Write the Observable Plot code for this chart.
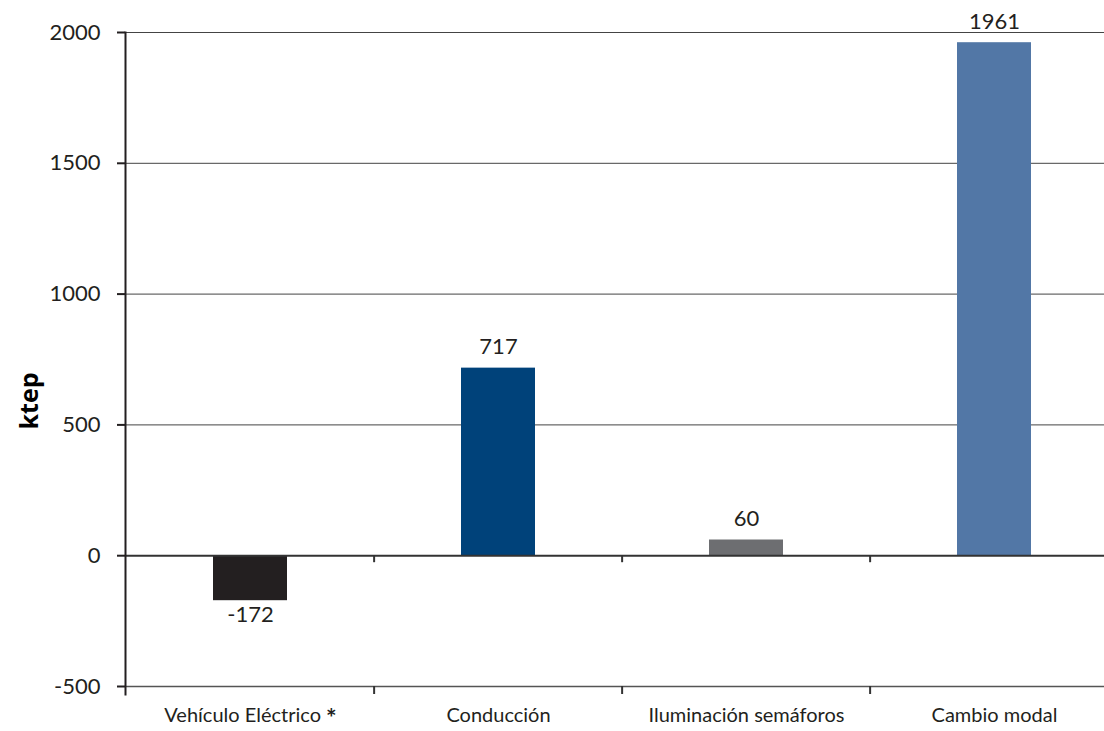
<!DOCTYPE html>
<html>
<head>
<meta charset="utf-8">
<script src="https://cdn.jsdelivr.net/npm/d3@7"></script>
<script src="https://cdn.jsdelivr.net/npm/@observablehq/plot@0.6"></script>
<style>
  html, body { margin: 0; padding: 0; background: #fff; overflow: hidden; }
  #chart { width: 1104px; height: 731px; }
</style>
</head>
<body>
<div id="chart"></div>
<script>
// ---- data ----
const categories = ["Vehículo Eléctrico", "Conducción", "Iluminación semáforos", "Cambio modal"];
const values = [-172, 717, 60, 1961];
const yTicks = [-500, 0, 500, 1000, 1500, 2000];
const gridValues = [500, 1000, 1500, 2000];
const yLabel = "ktep";

// ---- style ----
const palette = ["#231f20", "#00427a", "#6d6e71", "#5277a6"];
const W = 1104, H = 731;
const mL = 125, mR = -16, mT = 32, mB = 45;
const font = "Lato, 'Open Sans', sans-serif";

const data = categories.map((c, i) => ({cat: c, value: values[i]}));
const step = (W - mL - mR) / categories.length;
const boundaries = categories.slice(1);

const plot = Plot.plot({
  width: W,
  height: H,
  marginLeft: mL,
  marginRight: mR,
  marginTop: mT,
  marginBottom: mB,
  style: {fontFamily: font, color: "#231f20", background: "#fff"},
  x: {domain: categories, paddingInner: 0.7, paddingOuter: 0.35, label: null},
  y: {domain: [-500, 2000], label: null},
  color: {domain: categories, range: palette},
  marks: [
    Plot.ruleY(gridValues, {stroke: "#444", strokeWidth: 1}),
    Plot.barY(data, {x: "cat", y: "value", fill: "cat"}),
    Plot.ruleY([0], {stroke: "#333", strokeWidth: 2}),
    Plot.ruleY([-500], {stroke: "#555", strokeWidth: 1.5}),
    // boundary ticks on zero line and bottom line
    Plot.ruleX(boundaries, {x: d => d, y1: 0, y2: 0, dx: -step / 2, insetBottom: -7, stroke: "#333", strokeWidth: 2}),
    Plot.ruleX(boundaries, {x: d => d, y1: -500, y2: -500, dx: -step / 2, insetBottom: -8, stroke: "#333", strokeWidth: 2}),
    Plot.frame({anchor: "left", stroke: "#231f20", strokeWidth: 2, insetBottom: -8}),
    Plot.axisY({ticks: yTicks, tickSize: 8, tickPadding: 17, fontSize: 22, tickFormat: d => String(d), stroke: "#231f20", strokeWidth: 2}),
    Plot.axisX({tickSize: 0, tickPadding: 21, fontSize: 20, tickFormat: d => d === categories[0] ? d + " *" : d}),
    Plot.text(data.filter(d => d.value >= 0), {x: "cat", y: "value", text: d => String(d.value), lineAnchor: "bottom", dy: -14, fontSize: 22, fill: "#231f20"}),
    Plot.text(data.filter(d => d.value < 0), {x: "cat", y: "value", text: d => String(d.value), lineAnchor: "top", dy: 6, fontSize: 22, fill: "#231f20"})
  ]
});

document.getElementById("chart").appendChild(plot);

// enlarge the asterisk on the first category label
d3.select(plot).selectAll("text").each(function() {
  const t = d3.select(this);
  if (t.text() === categories[0] + " *") {
    t.text(null);
    t.append("tspan").text(categories[0] + " ");
    t.append("tspan").text("*").attr("font-weight", "bold").attr("font-size", 25).attr("dy", "0.2em");
  }
});

// y-axis title
d3.select(plot).append("text")
  .attr("transform", "translate(38,401) rotate(-90)")
  .attr("text-anchor", "middle")
  .attr("font-family", "'Open Sans', sans-serif")
  .attr("font-weight", "bold")
  .attr("font-size", 25)
  .attr("fill", "#000")
  .text(yLabel);
</script>
</body>
</html>
